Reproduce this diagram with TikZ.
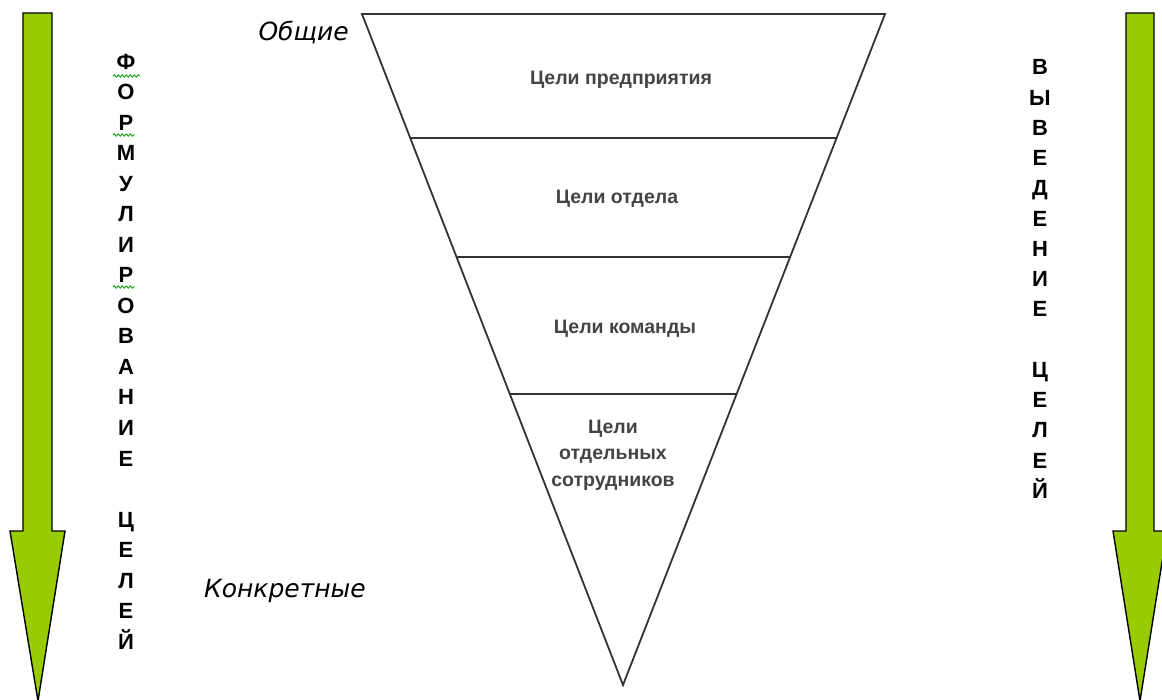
\documentclass[tikz,border=0pt]{standalone}
\usepackage{fontspec}
\setmainfont{Liberation Sans}
\newfontfamily\dvsans{DejaVu Sans}
\usetikzlibrary{calc,decorations.pathmorphing}
\definecolor{arrowgreen}{HTML}{99CC00}
\definecolor{lineg}{HTML}{333333}
\definecolor{labg}{HTML}{444444}
\tikzset{
  bigarrow/.style={fill=arrowgreen,draw=black,line width=1.4pt,line join=miter},
  pyr/.style={draw=lineg,line width=1.8pt},
  lvl/.style={text=labg,font=\bfseries\fontsize{19.5}{26.5}\selectfont,align=center,inner sep=0pt},
  vletter/.style={font=\bfseries\fontsize{22}{22}\selectfont,anchor=base,inner sep=0pt},
  side/.style={font=\dvsans\itshape\fontsize{25}{25}\selectfont,inner sep=0pt},
  squig/.style={draw=green!60!black,line width=0.8pt,decorate,decoration={snake,amplitude=1.2pt,segment length=4pt}}
}
\begin{document}
\begin{tikzpicture}[x=1pt,y=-1pt]
\useasboundingbox (0,0) rectangle (1162,700);
\clip (0,0) rectangle (1162,700);
% green arrows
\draw[bigarrow] (23,13) -- (52,13) -- (52,531) -- (65,531) -- (38,701) -- (10,531) -- (23,531) -- cycle;
\draw[bigarrow] (1126,13) -- (1154,13) -- (1154,531) -- (1167,531) -- (1140,701) -- (1113,531) -- (1126,531) -- cycle;
% pyramid
\coordinate (A) at (362,14);
\coordinate (B) at (885,14);
\coordinate (C) at (623,685);
\draw[pyr,line join=miter] (A) -- (B) -- (C) -- cycle;
\draw[pyr] ($(A)!0.1848!(C)$) -- ($(B)!0.1848!(C)$);
\draw[pyr] ($(A)!0.3621!(C)$) -- ($(B)!0.3621!(C)$);
\draw[pyr] ($(A)!0.5663!(C)$) -- ($(B)!0.5663!(C)$);
% level labels
\node[lvl] (l1) at (621,80) {Цели предприятия};
\node[lvl] (l2) at (617,199) {Цели отдела};
\node[lvl] (l3) at (625,329) {Цели команды};
\node[lvl] (l4) at (613,455) {Цели\\отдельных\\сотрудников};
% side labels
\node[side,anchor=east] (gen) at (349,33) {Общие};
\node[side,anchor=east] (con) at (366,591) {Конкретные};
% vertical words
\foreach \c [count=\i from 0] in {Ф,О,Р,М,У,Л,И,Р,О,В,А,Н,И,Е,{},Ц,Е,Л,Е,Й}
  \node[vletter] (L\i) at (126,69.5+\i*30.5) {\c};
\foreach \c [count=\i from 0] in {В,Ы,В,Е,Д,Е,Н,И,Е,{},Ц,Е,Л,Е,Й}
  \node[vletter] (R\i) at (1040,75+\i*30.25) {\c};
% spell-check squiggles
\draw[squig] (113,76) -- (140,76);
\draw[squig] (113,135) -- (135,135);
\draw[squig] (113,287) -- (135,287);
\end{tikzpicture}
\end{document}
